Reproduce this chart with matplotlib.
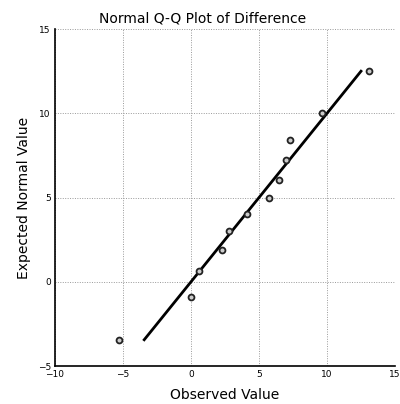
import matplotlib
matplotlib.use("Agg")
import matplotlib.pyplot as plt
import numpy as np

observed = [-5.3, 0.0, 0.6, 2.3, 2.8, 4.1, 5.7, 6.5, 7.0, 7.3, 9.6, 13.1]
expected = [-3.44, -0.89, 0.65, 1.9, 3.0, 4.0, 5.0, 6.05, 7.2, 8.4, 10.0, 12.5]
x_ticks = [-10, -5, 0, 5, 10, 15]
y_ticks = [-5, 0, 5, 10, 15]

fig = plt.figure(figsize=(4.0, 4.04), dpi=100)
ax = fig.add_axes([0.1375, 0.094, 0.85, 0.834])

ax.grid(True, color="#999999", linestyle=(0, (1, 1.5)), linewidth=0.7)
ax.set_axisbelow(True)

lo, hi = min(expected), max(expected)
ax.plot([lo, hi], [lo, hi], color="black", linewidth=2.0, zorder=2)
ax.scatter(observed, expected, s=18, facecolors="#cccccc", edgecolors="#222222",
           linewidths=1.3, zorder=3)

ax.set_xlim(-10, 15)
ax.set_ylim(-5, 15)
ax.set_xticks(x_ticks)
ax.set_yticks(y_ticks)
ax.tick_params(labelsize=6.5, length=0, pad=3)
for s in ["top", "right"]:
    ax.spines[s].set_visible(False)
for s in ["left", "bottom"]:
    ax.spines[s].set_linewidth(1.2)

ax.set_title("Normal Q-Q Plot of Difference", fontsize=10, pad=5, x=0.435)
ax.set_xlabel("Observed Value", fontsize=10, labelpad=6)
ax.set_ylabel("Expected Normal Value", fontsize=10, labelpad=5)

fig.savefig("out.png", dpi=100)
